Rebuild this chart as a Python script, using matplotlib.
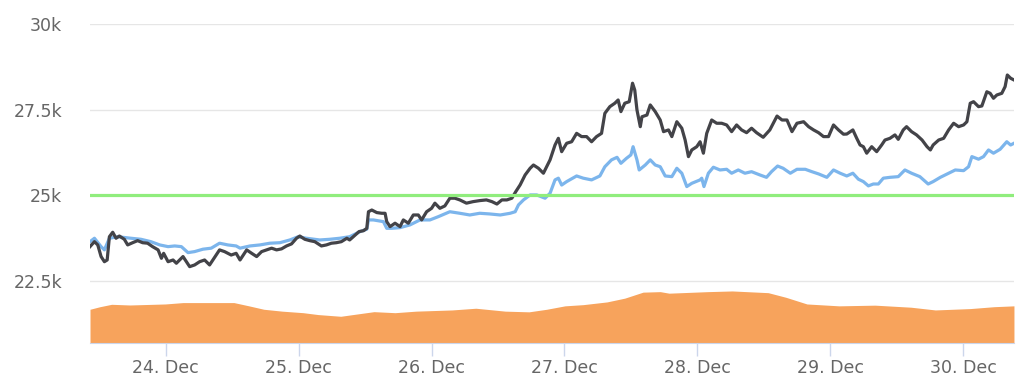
import numpy as np
import pandas as pd
import matplotlib
matplotlib.use("Agg")
import matplotlib.pyplot as plt
import matplotlib.dates as mdates

# hours counted from 23 Dec 2020 00:00
BASE = pd.Timestamp("2020-12-23")

black_hours = [
    10.3, 11.1, 11.7, 12.3, 12.9, 13.4, 13.8, 14.4, 15.0, 15.6,
    16.5, 17.1, 18.0, 18.9, 19.8, 20.7, 21.6, 22.6, 23.2, 23.6,
    24.4, 25.3, 25.9, 27.1, 27.7, 28.3, 29.2, 30.1, 31.0, 31.9,
    32.7, 33.7, 34.6, 35.8, 36.7,
    37.4, 38.0, 38.6, 39.5, 40.4, 41.3, 42.2, 43.1, 44.0, 44.9,
    45.8, 46.7, 47.6, 48.2, 49.1, 50.0, 50.9, 52.1, 53.0, 53.9,
    54.8, 55.7, 56.7, 57.2, 58.2, 58.9, 59.7, 60.3, 60.6, 61.2,
    62.1, 63.0, 63.6, 63.9, 64.5, 65.4, 66.3,
    66.9, 67.8, 68.7, 69.6, 70.2, 71.1, 72.0, 72.6, 73.5, 74.4,
    75.3, 76.2, 77.1, 78.3, 79.5, 80.7, 81.9, 82.9, 83.8, 84.7,
    85.6, 86.5, 87.2, 88.0, 88.9, 89.8, 90.4, 91.3, 92.2,
    93.4, 94.3, 94.9, 95.5, 96.4, 97.3, 98.2, 99.1, 100.0, 100.9,
    101.8, 102.7, 103.3, 104.2, 105.1, 105.7, 106.2, 106.9, 107.7, 108.3,
    108.7, 109.1, 109.7, 110.0, 110.9, 111.5, 112.4, 113.3, 113.9, 114.8,
    115.4, 116.3, 117.2, 117.8, 118.4, 119.0, 119.9, 120.5,
    121.1, 121.7, 122.6, 123.5, 124.4, 125.3, 126.2, 127.1, 128.0, 128.9,
    129.8, 130.7, 131.9, 133.1, 134.4, 135.3, 136.2, 137.1, 138.0, 139.2,
    140.1, 141.0, 141.9, 142.8, 143.7, 144.6, 145.5, 146.4,
    147.0, 148.1, 148.8, 149.4, 150.0, 150.6, 151.5, 152.4, 153.3, 153.9,
    154.8, 155.7, 156.3, 157.2, 157.8, 158.7, 159.6, 160.6, 161.5, 162.1,
    162.6, 163.6, 164.5, 165.4, 166.3, 167.2, 168.1, 168.7, 169.3, 169.9,
    170.8, 171.4, 172.3, 172.9, 173.5, 174.1, 175.0, 175.6, 176.0, 176.6, 177.2,
]
black_usd = [
    23495, 23640, 23545, 23205, 23055, 23105, 23785, 23915, 23740, 23805,
    23710, 23545, 23610, 23670, 23610, 23595, 23495, 23400, 23155, 23300,
    23055, 23105, 23010, 23205, 23055, 22910, 22960, 23055, 23105, 22960,
    23155, 23400, 23350, 23250, 23300,
    23105, 23250, 23400, 23300, 23205, 23350, 23400, 23450, 23400, 23430,
    23515, 23575, 23740, 23805, 23710, 23670, 23640, 23515, 23545, 23595,
    23610, 23640, 23740, 23690, 23835, 23935, 23960, 24030, 24515, 24565,
    24490, 24470, 24470, 24225, 24080, 24180, 24080,
    24275, 24180, 24420, 24420, 24275, 24515, 24615, 24765, 24615, 24685,
    24910, 24910, 24860, 24765, 24810, 24840, 24860, 24810, 24740, 24860,
    24860, 24910, 25100, 25300, 25590, 25785, 25880, 25785, 25640,
    26030, 26465, 26660, 26270, 26515, 26560, 26805, 26710, 26710, 26560,
    26710, 26805, 27390, 27585, 27685, 27780, 27440, 27685, 27730, 28270,
    28070, 27490, 27000, 27290, 27340, 27635, 27440, 27195, 26855, 26905,
    26710, 27145, 26955, 26610, 26125, 26320, 26415, 26560,
    26225, 26805, 27195, 27100, 27100, 27050, 26855, 27050, 26905, 26825,
    26955, 26825, 26690, 26905, 27310, 27195, 27195, 26855, 27100, 27145,
    27000, 26905, 26825, 26710, 26710, 27050, 26905, 26780,
    26785, 26905, 26660, 26465, 26415, 26225, 26415, 26270, 26465, 26610,
    26660, 26760, 26630, 26905, 27000, 26855, 26760, 26610, 26415, 26320,
    26465, 26610, 26660, 26905, 27100, 27000, 27050, 27145, 27685, 27730,
    27585, 27605, 28020, 27975, 27830, 27925, 27975, 28170, 28510, 28415, 28365,
]

blue_hours = [
    10.3, 11.1, 12.3, 12.9, 13.8, 15.3, 17.7, 19.5, 21.3, 22.9,
    24.4, 25.6, 26.8, 28.0, 29.2, 30.7, 32.2, 33.7, 35.2, 36.7,
    37.4, 39.2, 41.0, 42.8, 44.6, 46.4, 47.9, 49.4, 51.8, 53.6,
    55.4, 57.2, 59.1, 60.3, 60.6, 61.5, 63.3, 63.9, 64.8, 66.3,
    68.1, 69.9, 71.7, 73.2, 75.3, 77.1, 78.9, 80.7, 82.5, 84.4,
    86.2, 87.1, 87.7, 88.6, 89.8, 91.0, 92.5, 93.4, 94.3, 94.9,
    95.5, 96.4, 98.2, 99.4, 100.9, 102.4, 103.3, 104.5, 105.5, 106.2,
    107.2, 108.0, 108.4, 109.1, 109.5, 110.6, 111.5, 112.4, 113.3, 114.2,
    115.4, 116.3, 117.2, 118.1, 119.0, 120.5, 120.8, 121.2, 122.0, 122.9,
    124.1, 125.3, 126.2, 127.4, 128.6, 129.8, 131.3, 132.5, 133.4, 134.5,
    135.5, 136.8, 138.0, 139.5, 140.7, 141.9, 143.4, 144.6, 145.8, 147.0,
    148.1, 149.1, 150.0, 150.9, 151.8, 152.7, 153.6, 154.8, 156.3, 157.5,
    158.7, 160.2, 161.7, 162.6, 163.9, 165.4, 166.6, 168.1, 169.0, 169.6,
    170.8, 171.7, 172.6, 173.5, 174.7, 175.9, 176.6, 177.2,
]
blue_usd = [
    23640, 23740, 23495, 23400, 23740, 23785, 23740, 23710, 23640, 23545,
    23495, 23515, 23495, 23320, 23350, 23420, 23450, 23595, 23545, 23515,
    23450, 23515, 23545, 23595, 23610, 23690, 23785, 23740, 23690, 23710,
    23740, 23785, 23935, 24005, 24275, 24275, 24225, 24030, 24030, 24050,
    24130, 24275, 24275, 24370, 24515, 24470, 24420, 24470, 24450, 24420,
    24470, 24515, 24715, 24860, 25005, 25005, 24910, 25055, 25445, 25495,
    25295, 25395, 25560, 25495, 25445, 25560, 25830, 26030, 26105, 25930,
    26075, 26175, 26415, 26030, 25735, 25880, 26030, 25880, 25830, 25560,
    25540, 25785, 25640, 25250, 25345, 25445, 25495, 25250, 25640, 25815,
    25735, 25755, 25640, 25735, 25640, 25685, 25590, 25520, 25685, 25850,
    25785, 25640, 25755, 25755, 25685, 25620, 25520, 25735, 25640, 25560,
    25640, 25465, 25395, 25270, 25325, 25325, 25495, 25520, 25540, 25735,
    25640, 25540, 25325, 25395, 25520, 25640, 25735, 25715, 25830, 26125,
    26050, 26125, 26320, 26225, 26340, 26560, 26465, 26515,
]

orange_hours = [
    10.3, 12.1, 14.2, 17.5, 23.9, 27.1, 36.3, 39.0, 41.7, 45.0,
    48.8, 51.5, 55.6, 57.8, 61.6, 65.4, 69.2, 75.7, 80.0, 85.3,
    89.6, 92.8, 96.1, 99.4, 103.7, 106.9, 110.2, 113.3, 114.9, 121.9,
    126.3, 132.8, 136.0, 139.8, 145.6, 152.1, 158.6, 163.0, 169.3, 173.6, 177.2,
]
orange_usd = [
    21665, 21740, 21810, 21790, 21820, 21860, 21860, 21765, 21665, 21610,
    21565, 21510, 21460, 21510, 21595, 21565, 21610, 21645, 21695, 21610,
    21590, 21665, 21765, 21800, 21880, 21990, 22165, 22180, 22135, 22180,
    22200, 22150, 22015, 21820, 21765, 21785, 21725, 21645, 21685, 21740, 21765,
]

level_usd = 25000
y_ticks = [22500, 25000, 27500, 30000]
y_labels = ["22.5k", "25k", "27.5k", "30k"]
y_min, y_max = 20680, 30000


def to_time(hours):
    return BASE + pd.to_timedelta(hours, unit="h")


t_black = to_time(black_hours)
t_blue = to_time(blue_hours)
t_orange = to_time(orange_hours)

fig = plt.figure(figsize=(10.24, 3.89), dpi=100)
ax = fig.add_axes([0.0879, 0.1183, 0.9023, 0.82])

ax.fill_between(t_orange, y_min, orange_usd, color="#f7a35c", lw=0, zorder=1)
ax.plot(t_blue, blue_usd, color="#7cb5ec", lw=2.3, zorder=2, solid_joinstyle="round")
ax.plot(t_black, black_usd, color="#434348", lw=2.3, zorder=3, solid_joinstyle="round")
ax.axhline(level_usd, color="#90ed7d", lw=2.3, zorder=4)

ax.set_xlim(t_orange[0], t_orange[-1])
ax.set_ylim(y_min, y_max)

ax.set_yticks(y_ticks)
ax.set_yticklabels(y_labels)
ax.grid(axis="y", color="#e6e6e6", lw=1)
ax.set_axisbelow(True)
ax.tick_params(axis="y", length=0, pad=20, labelsize=12.5, labelcolor="#666666")

ax.xaxis.set_major_locator(mdates.DayLocator())
ax.xaxis.set_major_formatter(mdates.DateFormatter("%d. %b"))
ax.tick_params(axis="x", length=9.5, width=1, color="#ccd6eb", pad=2,
               labelsize=12.5, labelcolor="#666666")

for side in ["top", "right", "left"]:
    ax.spines[side].set_visible(False)
ax.spines["bottom"].set_color("#ccd6eb")

fig.savefig("out.png", dpi=100)
